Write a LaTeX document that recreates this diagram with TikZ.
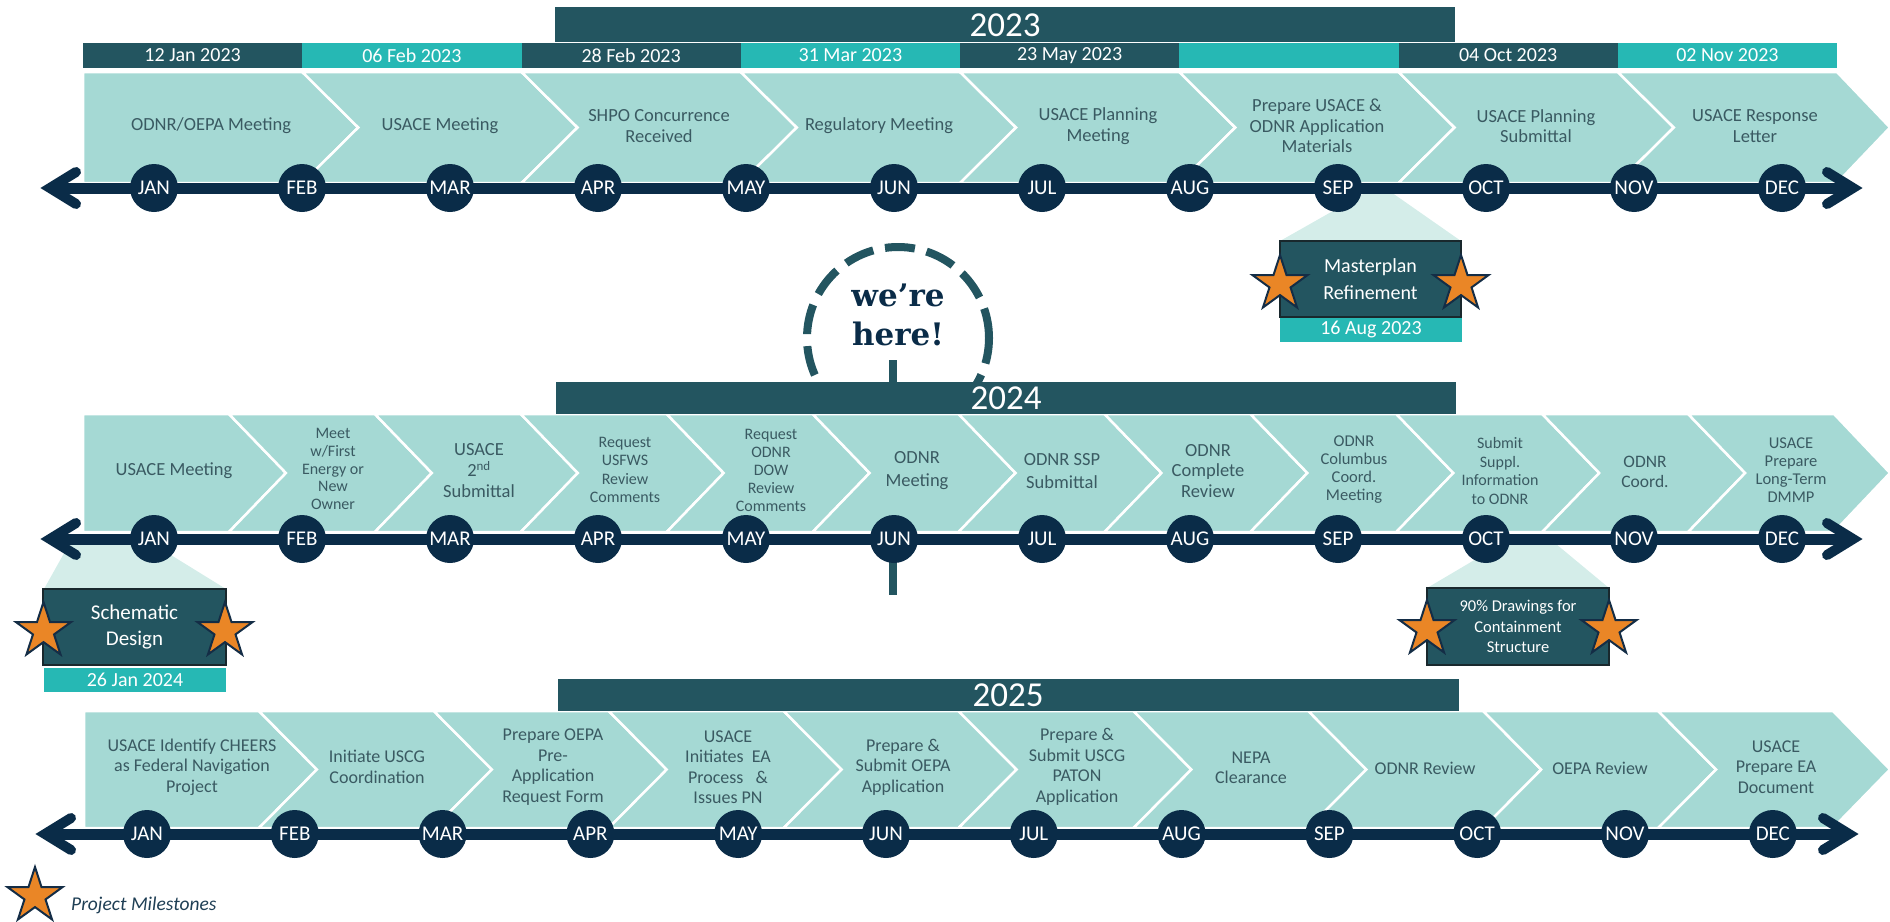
\documentclass[tikz,border=0pt]{standalone}
\usepackage{fontspec}
\setmainfont{Carlito}
\newfontfamily\herefont{DejaVu Serif}
\usetikzlibrary{shapes.geometric}
\definecolor{chev}{RGB}{165,217,212}
\definecolor{darkbar}{RGB}{35,85,96}
\definecolor{tealbar}{RGB}{38,184,180}
\definecolor{navy}{RGB}{10,44,72}
\definecolor{chevtext}{RGB}{58,90,98}
\definecolor{callout}{RGB}{212,237,233}
\definecolor{staror}{RGB}{234,134,38}
\definecolor{starline}{RGB}{20,45,70}
\definecolor{boxline}{RGB}{25,40,45}
\definecolor{legendc}{RGB}{31,63,85}
\tikzset{
  chevshape/.style={fill=chev, draw=white, line width=2.5pt, line join=miter},
  clab/.style={text=chevtext, align=center, inner sep=0pt},
  fA/.style={font=\fontsize{18.5pt}{20.5pt}\selectfont},
  fB/.style={font=\fontsize{16pt}{18pt}\selectfont},
  fC/.style={font=\fontsize{18pt}{20.5pt}\selectfont},
  yeartext/.style={text=white, inner sep=0pt, font=\fontsize{35pt}{35pt}\selectfont},
  datetext/.style={text=white, inner sep=0pt, font=\fontsize{20pt}{20pt}\selectfont},
  monthdot/.style={circle, fill=navy, minimum size=48pt, inner sep=0pt, text=white, font=\fontsize{21pt}{21pt}\selectfont},
  axisline/.style={draw=navy, line width=11pt},
  arrowarm/.style={draw=navy, line width=10pt, line cap=round, line join=miter},
  milebox/.style={draw=boxline, line width=1.5pt, fill=darkbar, text=white, align=center, inner sep=0pt},
  milestar/.style={star, star points=5, star point ratio=2.618, minimum size=58pt, inner sep=0pt, fill=staror, draw=starline, line width=2pt},
}
\begin{document}
\begin{tikzpicture}[x=1pt,y=-1pt]
\useasboundingbox (0,0) rectangle (1890,921);

% ---------- callout wedges ----------
\fill[callout] (1370,190) -- (1388,190) -- (1461,241) -- (1280,241) -- cycle;
\fill[callout] (72,539) -- (145,539) -- (226,589) -- (44,589) -- cycle;
\fill[callout] (1510,539) -- (1550,539) -- (1609,588) -- (1427,588) -- cycle;

% ---------- we're here marker ----------
\coordinate (hereTop) at (893,360);
\coordinate (hereBot) at (893,595);
\draw[darkbar, line width=8pt] (hereTop) -- (hereBot);
\draw[darkbar, line width=8pt, dash pattern=on 30pt off 12pt] (898,338) circle (91pt);
\node[font=\herefont\bfseries\fontsize{31pt}{39pt}\selectfont, text=navy, align=center, inner sep=0pt] (here) at (898,315) {we’re\\here!};

% ---------- ROW 1 (2023) ----------
\foreach \i in {0,...,7}{
  \pgfmathsetmacro\xl{83+219.25*\i}
  \pgfmathsetmacro\xr{83+219.25*(\i+1)}
  \pgfmathsetmacro\xt{min(\xr+56,1890)}
  \pgfmathsetmacro\xn{\i==0 ? \xl : \xl+56}
  \draw[chevshape] (\xl,72) -- (\xr,72) -- (\xt,127.5) -- (\xr,183) -- (\xl,183) -- (\xn,127.5) -- cycle;
}
\fill[darkbar] (555,7) rectangle (1455,42);
\node[yeartext] (y2023) at (1005,25) {2023};
\foreach \c/\d [count=\i from 0] in {darkbar/12 Jan 2023, tealbar/06 Feb 2023, darkbar/28 Feb 2023, tealbar/31 Mar 2023, darkbar/23 May 2023, tealbar/{ }, darkbar/04 Oct 2023, tealbar/02 Nov 2023}{
  \pgfmathsetmacro\xl{83+219.25*\i}
  \pgfmathsetmacro\xr{83+219.25*(\i+1)}
  \fill[\c] (\xl,43) rectangle (\xr,68);
  \node[datetext] (d1-\i) at ({(\xl+\xr)/2},55.5) {\d};
}
\node[clab,fA] (t1-0) at (211,126) {ODNR/OEPA Meeting};
\node[clab,fA] (t1-1) at (440,126) {USACE Meeting};
\node[clab,fA] (t1-2) at (659,126) {SHPO Concurrence\\Received};
\node[clab,fA] (t1-3) at (879,126) {Regulatory Meeting};
\node[clab,fA] (t1-4) at (1098,126) {USACE Planning\\Meeting};
\node[clab,fA] (t1-5) at (1317,126) {Prepare USACE \&\\ODNR Application\\Materials};
\node[clab,fA] (t1-6) at (1536,126) {USACE Planning\\Submittal};
\node[clab,fA] (t1-7) at (1755,126) {USACE Response\\Letter};

\coordinate (L1) at (50,188);
\coordinate (R1) at (1853,188);
\draw[axisline] (L1) -- (R1);
\draw[arrowarm] (76,172) -- (L1) -- (76,204);
\draw[arrowarm] (1827,172) -- (R1) -- (1827,204);
\foreach \m [count=\i from 0] in {JAN,FEB,MAR,APR,MAY,JUN,JUL,AUG,SEP,OCT,NOV,DEC}{
  \node[monthdot] (m1-\i) at ({154+148*\i},188) {\m};
}

% ---------- ROW 2 (2024) ----------
\foreach \i in {0,...,11}{
  \pgfmathsetmacro\xl{83+145.92*\i}
  \pgfmathsetmacro\xr{83+145.92*(\i+1)}
  \pgfmathsetmacro\xt{min(\xr+57,1890)}
  \pgfmathsetmacro\xn{\i==0 ? \xl : \xl+57}
  \draw[chevshape] (\xl,414) -- (\xr,414) -- (\xt,473) -- (\xr,532) -- (\xl,532) -- (\xn,473) -- cycle;
}
\fill[darkbar] (556,382) rectangle (1456,414);
\node[yeartext] (y2024) at (1006,398) {2024};
\node[clab,fA] (t2-0) at (174,471) {USACE Meeting};
\node[clab,font=\fontsize{16pt}{17.7pt}\selectfont] (t2-1) at (333,469) {Meet\\w/First\\Energy or\\New\\Owner};
\node[clab,font=\fontsize{18.5pt}{21pt}\selectfont] (t2-2) at (479,471) {USACE\\2\textsuperscript{nd}\\Submittal};
\node[clab,font=\fontsize{16pt}{18.5pt}\selectfont] (t2-3) at (625,470) {Request\\USFWS\\Review\\Comments};
\node[clab,fB] (t2-4) at (771,470) {Request\\ODNR\\DOW\\Review\\Comments};
\node[clab,font=\fontsize{18.5pt}{23pt}\selectfont] (t2-5) at (917,471) {ODNR\\Meeting};
\node[clab,font=\fontsize{18.5pt}{23pt}\selectfont] (t2-6) at (1062,471) {ODNR SSP\\Submittal};
\node[clab,fA] (t2-7) at (1208,471) {ODNR\\Complete\\Review};
\node[clab,font=\fontsize{16.5pt}{18pt}\selectfont] (t2-8) at (1354,470) {ODNR\\Columbus\\Coord.\\Meeting};
\node[clab,font=\fontsize{16pt}{18.5pt}\selectfont] (t2-9) at (1500,471) {Submit\\Suppl.\\Information\\to ODNR};
\node[clab,font=\fontsize{17.5pt}{20pt}\selectfont] (t2-10) at (1645,472) {ODNR\\Coord.};
\node[clab,font=\fontsize{16.5pt}{18pt}\selectfont] (t2-11) at (1791,470) {USACE\\Prepare\\Long-Term\\DMMP};

\coordinate (L2) at (50,539);
\coordinate (R2) at (1853,539);
\draw[axisline] (L2) -- (R2);
\draw[arrowarm] (76,523) -- (L2) -- (76,555);
\draw[arrowarm] (1827,523) -- (R2) -- (1827,555);
\foreach \m [count=\i from 0] in {JAN,FEB,MAR,APR,MAY,JUN,JUL,AUG,SEP,OCT,NOV,DEC}{
  \node[monthdot] (m2-\i) at ({154+148*\i},539) {\m};
}

% ---------- ROW 3 (2025) ----------
\foreach \i in {0,...,9}{
  \pgfmathsetmacro\xl{84+174.9*\i}
  \pgfmathsetmacro\xr{84+174.9*(\i+1)}
  \pgfmathsetmacro\xt{min(\xr+58,1890)}
  \pgfmathsetmacro\xn{\i==0 ? \xl : \xl+58}
  \draw[chevshape] (\xl,711) -- (\xr,711) -- (\xt,769.5) -- (\xr,828) -- (\xl,828) -- (\xn,769.5) -- cycle;
}
\fill[darkbar] (558,679) rectangle (1459,711);
\node[yeartext] (y2025) at (1008,695) {2025};
\node[clab,fC] (t3-0) at (192,767) {USACE Identify CHEERS\\as Federal Navigation\\Project};
\node[clab,fC] (t3-1) at (377,767) {Initiate USCG\\Coordination};
\node[clab,fC] (t3-2) at (553,767) {Prepare OEPA\\Pre-\\Application\\Request Form};
\node[clab,fC] (t3-3) at (728,767) {USACE\\Initiates\ \ EA\\Process\ \ \ \&\\Issues PN};
\node[clab,fC] (t3-4) at (903,767) {Prepare \&\\Submit OEPA\\Application};
\node[clab,fC] (t3-5) at (1077,767) {Prepare \&\\Submit USCG\\PATON\\Application};
\node[clab,fC] (t3-6) at (1251,768) {NEPA\\Clearance};
\node[clab,fC] (t3-7) at (1425,768) {ODNR Review};
\node[clab,fC] (t3-8) at (1600,768) {OEPA Review};
\node[clab,fC] (t3-9) at (1776,767) {USACE\\Prepare EA\\Document};

\coordinate (L3) at (45,834);
\coordinate (R3) at (1849,834);
\draw[axisline] (L3) -- (R3);
\draw[arrowarm] (71,818) -- (L3) -- (71,850);
\draw[arrowarm] (1823,818) -- (R3) -- (1823,850);
\foreach \m [count=\i from 0] in {JAN,FEB,MAR,APR,MAY,JUN,JUL,AUG,SEP,OCT,NOV,DEC}{
  \node[monthdot] (m3-\i) at ({147+147.8*\i},834) {\m};
}

% ---------- milestones ----------
\node[milebox, minimum width=181pt, minimum height=76pt, font=\fontsize{20pt}{27pt}\selectfont] (mp) at (1370.5,279) {Masterplan\\Refinement};
\node[datetext, fill=tealbar, minimum width=182pt, minimum height=24pt] (mpd) at (1371,329.5) {16 Aug 2023};
\node[milebox, minimum width=183pt, minimum height=76pt, font=\fontsize{21pt}{26pt}\selectfont] (sd) at (134.5,627) {Schematic\\Design};
\node[datetext, fill=tealbar, minimum width=182pt, minimum height=24pt] (sdd) at (135,679.5) {26 Jan 2024};
\node[milebox, minimum width=182pt, minimum height=77pt, font=\fontsize{16.5pt}{20.5pt}\selectfont] (dr) at (1518,626.5) {90\% Drawings for\\Containment\\Structure};

\node[milestar] (s1) at (1280,284) {};
\node[milestar] (s2) at (1461,284) {};
\node[milestar] (s3) at (43.5,631) {};
\node[milestar] (s4) at (225,631) {};
\node[milestar] (s5) at (1427,629) {};
\node[milestar] (s6) at (1609,629) {};

% ---------- legend ----------
\node[milestar] (s7) at (35,896) {};
\node[anchor=west, inner sep=0pt, text=legendc, font=\itshape\fontsize{19.5pt}{20pt}\selectfont] (leg) at (71,905) {Project Milestones};
\end{tikzpicture}
\end{document}
